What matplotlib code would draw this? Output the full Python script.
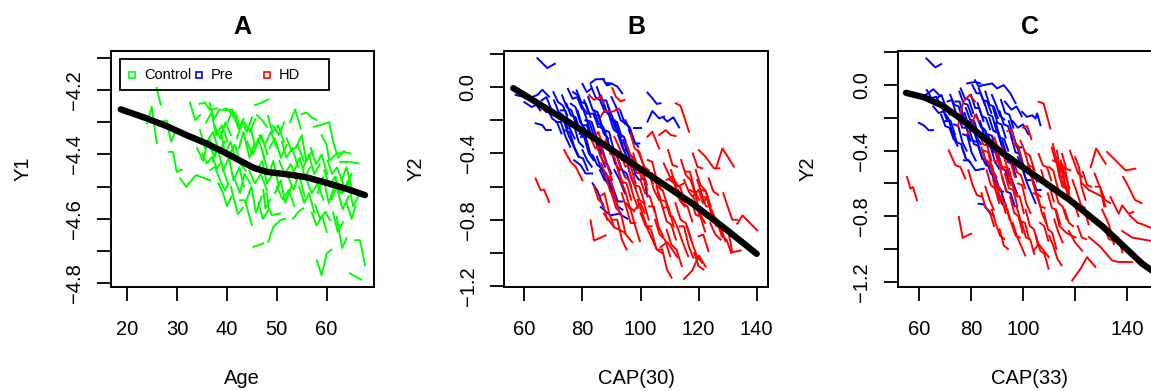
import matplotlib
matplotlib.use("Agg")
import matplotlib.pyplot as plt
from matplotlib.patches import Rectangle

plt.rcParams['font.family'] = ['Liberation Sans', 'DejaVu Sans']

# ---------------- Panel A: controls, Y1 vs age ----------------
ctrl_age = [
    [25.9, 26.7], [23.9, 24.9, 25.9], [26.6, 27.9, 28.8, 29.6], [28.4, 29.2, 29.9, 30.9],
    [30.6, 31.8, 33.8, 36.6], [32.6, 33.6, 34.6], [34.5, 35.6, 36.6, 38.0],
    [34.6, 35.6, 36.6, 37.6], [35.0, 36.0, 37.0, 38.0, 38.9], [38.9, 39.9, 40.9, 41.9, 42.9],
    [36.6, 37.6, 38.6, 39.6, 40.3], [38.3, 39.2, 40.0, 40.9], [40.8, 41.5, 42.2, 43.2],
    [42.6, 43.6, 45.0], [48.0, 48.3, 49.0, 50.7], [39.6, 40.9, 41.9, 42.6],
    [42.0, 43.0, 44.0, 45.0], [45.6, 47.0, 48.3], [46.0, 47.0, 48.0], [44.0, 45.2, 46.3, 47.5],
    [46.5, 47.6, 48.8, 50.0], [48.5, 49.6, 50.8, 52.0], [49.2, 50.4, 51.5], [50.5, 51.6, 52.8, 54.0],
    [52.0, 53.0, 54.2, 55.4], [53.5, 54.6, 55.6, 56.7], [55.0, 56.0, 57.0, 58.0], [57.4, 58.7, 60.2],
    [59.0, 60.0, 60.5, 61.8], [62.4, 63.4, 64.7], [62.7, 64.7, 66.4], [45.3, 47.3],
    [48.3, 49.3, 50.7, 51.7], [53.3, 54.3, 55.3], [58.0, 59.0, 60.0, 61.0], [65.7, 66.7, 67.7],
    [64.7, 66.9], [62.0, 62.7, 63.1, 64.0], [57.7, 58.7, 59.7, 60.7], [47.3, 47.7, 48.7],
    [56.0, 57.0, 58.2, 59.3], [59.5, 60.6, 61.6, 62.6], [61.0, 62.0, 63.2, 64.4], [63.0, 64.0, 65.0],
    [50.0, 51.2, 52.4, 53.5], [44.5, 45.6, 46.8, 48.0], [36.0, 37.2, 38.4, 39.6],
    [37.5, 38.6, 39.7, 40.8], [40.5, 41.6, 42.7, 43.8], [43.5, 44.6, 45.7], [54.5, 55.5, 56.5, 57.5],
    [60.5, 61.3, 62.3, 63.5], [64.0, 65.0, 65.8],
    [34.0, 35.2, 36.1, 37.3], [35.8, 36.9, 37.8, 39.0, 40.1], [37.2, 38.1, 39.3, 40.2],
    [38.8, 39.6, 40.7, 41.9], [39.2, 40.4, 41.3, 42.5, 43.4], [40.2, 41.1, 42.3, 43.3],
    [41.4, 42.6, 43.5, 44.7], [42.4, 43.3, 44.5, 45.4], [43.7, 44.9, 45.8, 47.0],
    [44.8, 45.7, 46.9, 48.1], [45.9, 47.1, 48.0, 49.2], [47.2, 48.4, 49.3, 50.4],
    [48.2, 49.1, 50.3, 51.4], [49.6, 50.8, 51.7, 52.9], [51.0, 51.9, 53.1, 54.3],
    [52.3, 53.4, 54.4, 55.6], [53.8, 55.0, 55.9, 57.1], [55.3, 56.4, 57.5, 58.6],
    [56.8, 57.9, 59.0, 60.1], [58.2, 59.3, 60.4, 61.5], [60.2, 61.1, 62.1, 63.3],
    [61.8, 62.9, 63.9, 65.0], [63.2, 64.3, 65.3, 66.4], [57.0, 58.0, 59.1, 60.0],
    [61.3, 62.2, 63.3], [46.3, 47.2, 48.4], [36.5, 37.4, 38.5], [52.6, 53.7, 54.8],
]
ctrl_y1 = [
    [-4.193, -4.246], [-4.304, -4.252, -4.364], [-4.298, -4.295, -4.360, -4.329],
    [-4.392, -4.392, -4.454, -4.448], [-4.474, -4.500, -4.464, -4.480], [-4.239, -4.293, -4.278],
    [-4.243, -4.239, -4.262, -4.257], [-4.324, -4.381, -4.355, -4.407],
    [-4.397, -4.428, -4.407, -4.443, -4.423], [-4.262, -4.257, -4.272, -4.298, -4.314],
    [-4.448, -4.438, -4.480, -4.511, -4.490], [-4.490, -4.520, -4.560, -4.530],
    [-4.500, -4.545, -4.585, -4.565], [-4.542, -4.542, -4.619], [-4.521, -4.562, -4.588, -4.583],
    [-4.262, -4.262, -4.278, -4.319], [-4.350, -4.300, -4.330, -4.285], [-4.247, -4.239, -4.229],
    [-4.278, -4.293, -4.314], [-4.36, -4.40, -4.35, -4.41], [-4.34, -4.37, -4.33, -4.38],
    [-4.38, -4.35, -4.41, -4.37], [-4.31, -4.34, -4.30], [-4.42, -4.46, -4.43, -4.48],
    [-4.35, -4.39, -4.37, -4.42], [-4.45, -4.41, -4.47, -4.44], [-4.275, -4.270, -4.285, -4.293],
    [-4.314, -4.309, -4.301], [-4.34, -4.37, -4.42, -4.40], [-4.397, -4.392, -4.397],
    [-4.423, -4.423, -4.428], [-4.687, -4.676], [-4.671, -4.624, -4.604, -4.599],
    [-4.599, -4.578, -4.567], [-4.728, -4.775, -4.707, -4.695], [-4.666, -4.666, -4.743],
    [-4.769, -4.788], [-4.593, -4.655, -4.690, -4.660], [-4.557, -4.599, -4.578, -4.604],
    [-4.510, -4.567, -4.540], [-4.48, -4.52, -4.49, -4.54], [-4.45, -4.50, -4.47, -4.52],
    [-4.54, -4.50, -4.57, -4.53], [-4.48, -4.44, -4.50], [-4.50, -4.54, -4.51, -4.56],
    [-4.45, -4.49, -4.46, -4.51], [-4.36, -4.33, -4.39, -4.36], [-4.31, -4.35, -4.30, -4.34],
    [-4.40, -4.37, -4.43, -4.45], [-4.30, -4.33, -4.29], [-4.50, -4.55, -4.52, -4.58],
    [-4.30, -4.36, -4.41, -4.39], [-4.55, -4.60, -4.56],
    [-4.38, -4.42, -4.36, -4.40], [-4.30, -4.27, -4.34, -4.31, -4.36], [-4.42, -4.38, -4.45, -4.49],
    [-4.33, -4.40, -4.36, -4.42], [-4.45, -4.41, -4.48, -4.44, -4.50], [-4.30, -4.26, -4.32, -4.29],
    [-4.47, -4.52, -4.46, -4.49], [-4.38, -4.33, -4.41, -4.37], [-4.55, -4.50, -4.58, -4.53],
    [-4.32, -4.38, -4.34, -4.40], [-4.45, -4.42, -4.49, -4.46], [-4.40, -4.46, -4.42, -4.50],
    [-4.28, -4.33, -4.31, -4.36], [-4.52, -4.48, -4.55, -4.50], [-4.36, -4.41, -4.38, -4.44],
    [-4.47, -4.51, -4.46, -4.53], [-4.38, -4.34, -4.42, -4.39], [-4.44, -4.40, -4.46, -4.43],
    [-4.38, -4.43, -4.40, -4.46], [-4.52, -4.47, -4.55, -4.50], [-4.42, -4.46, -4.44, -4.49],
    [-4.47, -4.52, -4.50, -4.46], [-4.52, -4.48, -4.56, -4.53], [-4.58, -4.62, -4.59, -4.64],
    [-4.58, -4.64, -4.61], [-4.55, -4.60, -4.57], [-4.24, -4.29, -4.26], [-4.30, -4.26, -4.32],
]
mean_age = [18.7, 23.9, 27.9, 31.9, 35.9, 39.3, 42.6, 45.3, 48.0, 50.7, 53.3, 56.0, 60.0, 64.1, 67.7]
mean_y1 = [-4.260, -4.288, -4.312, -4.340, -4.366, -4.392, -4.419, -4.441, -4.454,
           -4.459, -4.464, -4.471, -4.488, -4.507, -4.526]

# ---------------- Panel B: Y2 vs CAP(30) ----------------
pre_cap30 = [
    [64.5, 67.9, 70.5], [57.0, 61.6, 64.5, 66.2, 68.5], [63.9, 66.2, 67.4, 69.1], [82.8, 84.6, 87.4],
    [88.0, 89.7, 92.0, 93.7], [77.1, 79.4, 81.1, 83.4], [86.3, 89.7, 92.6, 95.5],
    [102.4, 104.1, 105.6, 106.9], [102.4, 104.1, 106.4, 108.1], [108.1, 109.2, 111.3, 113.3],
    [97.8, 100.1], [97.8, 99.5, 101.2, 102.4],
    [58.0, 60.5, 63.0, 65.5], [66.0, 67.6, 69.2, 70.8], [70.2, 71.8, 73.4, 75.0],
    [72.0, 73.6, 75.2, 76.8], [73.0, 74.6, 76.2, 77.8], [74.0, 75.6, 77.2, 78.8],
    [76.0, 77.6, 79.2, 80.8], [77.0, 78.6, 80.2, 81.8], [78.0, 79.6, 81.2, 82.8],
    [79.0, 80.6, 82.2, 83.8], [80.0, 81.6, 83.2, 84.8], [81.0, 82.6, 84.2, 85.8],
    [82.0, 83.6, 85.2, 86.8], [83.0, 84.6, 86.2, 87.8], [84.0, 85.6, 87.2, 88.8],
    [85.0, 86.6, 88.2, 89.8], [86.0, 87.6, 89.2, 90.8], [87.0, 88.6, 90.2, 91.8],
    [88.0, 89.6, 91.2, 92.8], [89.0, 90.6, 92.2, 93.8], [90.0, 91.6, 93.2, 94.8],
    [91.0, 92.6, 94.2, 95.8], [92.0, 93.6, 95.2, 96.8], [93.0, 94.6, 96.2, 97.8],
    [94.0, 95.6, 97.2, 98.8], [85.0, 86.6, 88.2, 89.8], [87.0, 88.6, 90.2, 91.8],
    [89.0, 90.6, 92.2, 93.8], [91.0, 92.8, 94.6], [75.0, 76.6, 78.2, 79.8],
    [68.0, 69.6, 71.2, 72.8], [96.0, 97.6, 99.2], [80.0, 81.6, 83.2], [71.0, 72.6, 74.2, 75.8],
    [83.5, 85.3, 87.1], [95.0, 96.6, 98.2],
    [74.5, 76.0, 77.6, 79.2], [75.5, 77.1, 78.7, 80.3], [76.8, 78.4, 80.0, 81.6],
    [78.3, 79.9, 81.5, 83.1], [79.5, 81.1, 82.7, 84.3], [80.6, 82.2, 83.8, 85.4],
    [81.8, 83.4, 85.0, 86.6], [82.9, 84.5, 86.1, 87.7], [84.1, 85.7, 87.3, 88.9],
    [85.2, 86.8, 88.4, 90.0], [86.4, 88.0, 89.6, 91.2], [87.6, 89.2, 90.8, 92.4],
    [88.7, 90.3, 91.9, 93.5], [89.9, 91.5, 93.1, 94.7], [91.1, 92.7, 94.3, 95.9],
    [92.3, 93.9, 95.5, 97.1], [93.6, 95.2, 96.8, 98.4], [72.5, 74.1, 75.7, 77.3],
    [70.0, 71.6, 73.2, 74.8], [77.0, 78.6, 80.2, 81.8], [83.5, 85.1, 86.7, 88.3],
    [86.0, 87.6, 89.2, 90.8], [89.0, 90.6, 92.2, 93.8], [94.8, 96.4, 98.0, 99.6],
    [80.0, 81.5, 83.0], [87.0, 88.5, 90.0], [60.0, 62.5, 65.0, 67.5],
]
pre_y2_b = [
    [0.175, 0.115, 0.141], [-0.047, -0.067, -0.047, -0.016, -0.057], [-0.218, -0.229, -0.259, -0.259],
    [0.024, 0.048, 0.048], [0.024, 0.024, 0.004, -0.037], [-0.441, -0.471, -0.521, -0.521],
    [-0.724, -0.774, -0.764, -0.794], [-0.033, -0.067, -0.101, -0.097],
    [-0.208, -0.144, -0.188, -0.178], [-0.188, -0.208, -0.182, -0.243], [-0.249, -0.249],
    [-0.52, -0.56, -0.55, -0.66],
    [-0.03, -0.07, -0.08, -0.14], [-0.08, -0.06, -0.13, -0.17], [-0.08, -0.15, -0.17, -0.25],
    [-0.18, -0.20, -0.29, -0.35], [-0.05, -0.12, -0.14, -0.22], [-0.26, -0.27, -0.36, -0.42],
    [-0.10, -0.12, -0.21, -0.25], [-0.18, -0.26, -0.27, -0.35], [-0.02, -0.09, -0.10, -0.18],
    [-0.28, -0.30, -0.40, -0.44], [-0.12, -0.20, -0.21, -0.30], [-0.20, -0.22, -0.31, -0.36],
    [-0.06, -0.14, -0.15, -0.24], [-0.30, -0.33, -0.41, -0.48], [-0.14, -0.22, -0.24, -0.33],
    [0.00, -0.08, -0.08, -0.16], [-0.24, -0.26, -0.35, -0.40], [-0.08, -0.16, -0.17, -0.27],
    [-0.34, -0.36, -0.46, -0.50], [-0.16, -0.25, -0.27, -0.35], [-0.06, -0.12, -0.20, -0.22],
    [-0.26, -0.28, -0.38, -0.44], [-0.42, -0.50, -0.52, -0.60], [-0.14, -0.22, -0.24, -0.32],
    [-0.32, -0.40, -0.42, -0.50], [-0.42, -0.50, -0.52, -0.61], [-0.50, -0.58, -0.60, -0.68],
    [-0.56, -0.64, -0.72, -0.74], [-0.50, -0.56, -0.64], [-0.01, -0.07, -0.06, -0.13],
    [-0.13, -0.19, -0.21, -0.28], [-0.26, -0.32, -0.36], [-0.38, -0.44, -0.48],
    [-0.21, -0.21, -0.30, -0.36], [-0.58, -0.63, -0.72], [-0.44, -0.44, -0.52],
    [-0.10, -0.17, -0.18, -0.26], [-0.22, -0.23, -0.33, -0.36], [-0.03, -0.05, -0.12, -0.16],
    [-0.14, -0.23, -0.23, -0.31], [-0.30, -0.30, -0.40, -0.44], [-0.08, -0.16, -0.16, -0.24],
    [-0.22, -0.31, -0.33, -0.40], [0.01, -0.06, -0.08, -0.15], [-0.17, -0.17, -0.28, -0.31],
    [-0.35, -0.37, -0.46, -0.52], [-0.05, -0.14, -0.16, -0.24], [-0.26, -0.27, -0.38, -0.41],
    [-0.11, -0.20, -0.21, -0.30], [-0.37, -0.39, -0.48, -0.54], [-0.20, -0.28, -0.30, -0.38],
    [-0.29, -0.37, -0.39, -0.47], [-0.44, -0.44, -0.55, -0.61], [-0.14, -0.14, -0.25, -0.31],
    [-0.03, -0.09, -0.11, -0.17], [-0.36, -0.42, -0.43, -0.50], [-0.41, -0.47, -0.49, -0.56],
    [-0.50, -0.56, -0.58, -0.66], [-0.54, -0.61, -0.69, -0.69], [-0.20, -0.26, -0.34, -0.34],
    [0.02, -0.03, -0.01], [0.05, 0.01, 0.02], [-0.09, -0.12, -0.10, -0.15],
]
hd_cap30 = [
    [63.9, 65.6, 66.8, 68.5], [73.7, 76.0, 77.7, 80.0], [82.8, 84.0, 88.0], [82.3, 84.0, 86.3, 87.4],
    [90.3, 91.5, 93.2, 94.5], [86.3, 87.6, 90.0, 92.6], [87.4, 90.9, 94.3, 97.2],
    [112.1, 113.8, 116.7], [102.4, 104.1, 106.4], [106.4, 108.7, 110.4, 112.1],
    [120.1, 122.4, 125.3, 127.2], [126.0, 128.2, 132.2], [133.3, 135.1, 140.2],
    [130.5, 131.6, 134.5], [115.0, 117.8, 120.1, 122.4], [106.9, 109.2, 112.7],
    [82.6, 84.5, 86.3, 88.0], [85.0, 86.8, 88.5, 90.2], [88.0, 89.8, 91.5, 93.4],
    [91.0, 92.6, 94.4, 96.0], [93.0, 94.8, 96.5, 98.3], [95.0, 96.8, 98.6, 100.4],
    [97.0, 98.8, 100.5, 102.3], [99.0, 100.8, 102.6, 104.3], [101.0, 102.8, 104.6, 106.4],
    [84.0, 85.5, 87.0, 88.5], [86.0, 87.6, 89.2, 90.8], [88.0, 89.6, 91.2, 92.8],
    [90.0, 91.6, 93.2, 94.8], [93.0, 94.6, 96.2, 97.8], [95.0, 96.6, 98.2, 99.8],
    [98.0, 99.6, 101.2, 102.8], [100.0, 101.8, 103.6, 105.4], [104.0, 105.8, 107.6, 109.4],
    [106.0, 107.8, 109.6, 111.4], [108.0, 109.8, 111.6, 113.4], [110.0, 111.6, 113.4, 115.2],
    [112.0, 113.8, 115.6, 117.4], [114.0, 115.6, 117.2, 119.0], [115.0, 116.6, 118.4, 120.2],
    [117.0, 118.8, 120.4, 122.2], [119.0, 120.6, 122.2, 124.0], [121.0, 122.6, 124.2, 126.0],
    [123.0, 124.6, 126.4, 128.2], [102.0, 103.8, 105.6, 107.4], [105.0, 106.6, 108.4, 110.2],
    [109.0, 110.6, 112.4, 114.2], [111.0, 112.8, 114.6, 116.4], [116.0, 117.6, 119.4, 121.2],
    [120.0, 121.6, 123.4], [124.0, 125.8, 127.6], [96.0, 97.8, 99.6, 101.4], [84.0, 85.5, 87.0],
    [118.0, 119.6, 121.2], [123.5, 125.1, 126.8],
    [86.5, 88.0, 89.5, 91.0], [89.5, 91.0, 92.5, 94.0], [92.0, 93.6, 95.2, 96.8],
    [94.5, 96.0, 97.6, 99.2], [97.5, 99.0, 100.6, 102.2], [100.0, 101.6, 103.2, 104.8],
    [102.5, 104.0, 105.6, 107.2], [105.5, 107.0, 108.6, 110.2], [107.5, 109.0, 110.6, 112.2],
    [110.5, 112.0, 113.6, 115.2], [113.0, 114.6, 116.2, 117.8], [115.5, 117.0, 118.6, 120.2],
    [117.5, 119.0, 120.6, 122.2], [119.5, 121.0, 122.6, 124.2], [121.5, 123.0, 124.6, 126.2],
    [124.5, 126.0, 127.6, 129.2], [126.5, 128.0, 129.6, 131.2], [99.0, 100.6, 102.2, 103.8],
    [103.0, 104.6, 106.2, 107.8], [93.5, 95.0, 96.6, 98.2], [90.5, 92.0, 93.6, 95.2],
    [113.5, 115.0, 116.6, 118.2], [106.0, 107.5, 109.1, 110.7], [118.5, 120.0, 121.6],
    [96.5, 98.0, 99.6, 101.2], [109.5, 111.0, 112.6], [128.5, 130.0, 131.6, 133.2],
    [109.0, 111.0, 113.0, 115.0], [118.0, 120.0, 121.5, 123.0], [98.0, 100.0, 101.5],
]
hd_y2_b = [
    [-0.552, -0.622, -0.618, -0.693], [-0.380, -0.451, -0.481, -0.562], [-0.804, -0.926, -0.895],
    [-0.047, -0.077, -0.057, -0.097], [-0.006, -0.057, -0.087, -0.077], [-0.18, -0.14, -0.15, -0.13],
    [-0.764, -0.845, -0.875, -0.936], [-0.097, -0.113, -0.269], [-0.299, -0.269, -0.37],
    [-0.289, -0.259, -0.289, -0.295], [-0.38, -0.42, -0.49, -0.49], [-0.49, -0.37, -0.48],
    [-0.824, -0.774, -0.865], [-0.895, -0.996, -0.986], [-1.158, -1.107, -1.016, -1.083],
    [-0.966, -0.935, -1.026],
    [-0.30, -0.37, -0.36, -0.45], [-0.36, -0.44, -0.47, -0.56], [-0.32, -0.40, -0.39, -0.50],
    [-0.30, -0.36, -0.44, -0.47], [-0.40, -0.48, -0.47, -0.58], [-0.34, -0.42, -0.46, -0.55],
    [-0.44, -0.52, -0.51, -0.62], [-0.38, -0.46, -0.52, -0.58], [-0.48, -0.50, -0.62, -0.68],
    [-0.60, -0.68, -0.70, -0.80], [-0.66, -0.64, -0.76, -0.84], [-0.54, -0.63, -0.66, -0.76],
    [-0.64, -0.73, -0.76, -0.88], [-0.56, -0.62, -0.72, -0.75], [-0.70, -0.74, -0.84, -0.93],
    [-0.60, -0.68, -0.70, -0.80], [-0.76, -0.84, -0.86, -0.97], [-0.52, -0.60, -0.62, -0.72],
    [-0.64, -0.73, -0.72, -0.84], [-0.46, -0.53, -0.58, -0.66], [-0.56, -0.58, -0.68, -0.72],
    [-0.70, -0.80, -0.82, -0.92], [-0.44, -0.53, -0.56, -0.65], [-0.56, -0.63, -0.67, -0.77],
    [-0.62, -0.64, -0.76, -0.82], [-0.50, -0.59, -0.62, -0.71], [-0.62, -0.63, -0.74, -0.80],
    [-0.68, -0.77, -0.80, -0.88], [-0.84, -0.91, -0.98, -1.00], [-0.80, -0.89, -0.92, -1.02],
    [-0.86, -0.95, -0.98, -1.08], [-0.78, -0.85, -0.94, -1.02], [-0.84, -0.93, -1.02, -1.06],
    [-0.90, -0.89, -0.99], [-0.82, -0.89, -0.92], [-0.50, -0.59, -0.60, -0.70],
    [-0.30, -0.27, -0.35], [-0.40, -0.48, -0.49], [-0.55, -0.63, -0.65],
    [-0.46, -0.53, -0.55, -0.64], [-0.40, -0.42, -0.52, -0.58], [-0.48, -0.57, -0.58, -0.68],
    [-0.54, -0.56, -0.66, -0.73], [-0.40, -0.48, -0.50, -0.59], [-0.56, -0.64, -0.66, -0.75],
    [-0.44, -0.45, -0.56, -0.62], [-0.60, -0.68, -0.69, -0.78], [-0.72, -0.81, -0.83, -0.92],
    [-0.50, -0.59, -0.60, -0.69], [-0.62, -0.70, -0.72, -0.81], [-0.51, -0.51, -0.62, -0.68],
    [-0.68, -0.77, -0.78, -0.87], [-0.56, -0.64, -0.72, -0.72], [-0.66, -0.67, -0.78, -0.84],
    [-0.74, -0.82, -0.84, -0.93], [-0.82, -0.90, -0.92, -1.00], [-0.68, -0.76, -0.84, -0.84],
    [-0.72, -0.72, -0.84, -0.90], [-0.64, -0.72, -0.82, -0.82], [-0.80, -0.80, -0.92, -0.98],
    [-0.84, -0.84, -0.96, -1.03], [-0.98, -0.98, -1.10, -1.15], [-1.00, -1.08, -1.10],
    [-0.28, -0.37, -0.39, -0.48], [-0.38, -0.47, -0.48], [-0.64, -0.72, -0.80, -0.80],
    [-0.56, -0.54, -0.60, -0.58], [-0.66, -0.62, -0.70, -0.66], [-0.74, -0.70, -0.76],
]
mean_cap30 = [56.2, 66.5, 76.9, 87.2, 97.5, 107.9, 118.2, 128.5, 140.0]
mean_y2_b = [-0.006, -0.117, -0.228, -0.344, -0.465, -0.586, -0.707, -0.845, -1.006]

# ---------------- Panel C: Y2 vs CAP(33) ----------------
pre_cap33 = [
    [62.8, 66.3, 68.5], [56.0, 60.0, 63.0, 65.5, 68.0], [59.9, 61.8, 63.7, 65.4], [78.5, 81.7, 83.6],
    [84.9, 88.1, 90.0, 92.6, 95.1, 97.1], [77.2, 79.1, 81.7, 84.9], [82.9, 84.9, 87.4, 88.7],
    [99.6, 101.5, 103.5, 104.8, 105.4, 106.7], [93.0, 95.5, 97.5, 99.5], [96.0, 98.0, 100.0, 102.0],
    [67.0, 68.6, 70.2, 71.8], [69.0, 70.6, 72.2, 73.8], [70.0, 71.6, 73.2, 74.8],
    [72.0, 73.6, 75.2, 76.8], [73.0, 74.6, 76.2, 77.8], [74.0, 75.6, 77.2, 78.8],
    [75.0, 76.6, 78.2, 79.8], [76.0, 77.6, 79.2, 80.8], [77.0, 78.6, 80.2, 81.8],
    [78.0, 79.6, 81.2, 82.8], [79.0, 80.6, 82.2, 83.8], [80.0, 81.6, 83.2, 84.8],
    [81.0, 82.6, 84.2, 85.8], [82.0, 83.6, 85.2, 86.8], [83.0, 84.6, 86.2, 87.8],
    [84.0, 85.6, 87.2, 88.8], [85.0, 86.6, 88.2, 89.8], [86.0, 87.6, 89.2, 90.8],
    [87.0, 88.6, 90.2, 91.8], [88.0, 89.6, 91.2, 92.8], [89.0, 90.6, 92.2, 93.8],
    [90.0, 91.6, 93.2, 94.8], [91.0, 92.6, 94.2, 95.8], [92.0, 93.6, 95.2, 96.8],
    [86.0, 87.6, 89.2, 90.8], [88.0, 89.6, 91.2, 92.8], [94.0, 95.8, 97.6],
    [98.0, 99.6, 101.2, 102.8], [100.0, 101.6, 103.2, 104.8], [63.0, 64.8, 66.6, 68.4],
    [90.0, 91.8, 93.6],
    [68.5, 70.1, 71.7, 73.3], [71.0, 72.6, 74.2, 75.8], [73.5, 75.1, 76.7, 78.3],
    [75.5, 77.1, 78.7, 80.3], [77.5, 79.1, 80.7, 82.3], [79.5, 81.1, 82.7, 84.3],
    [80.5, 82.1, 83.7, 85.3], [82.5, 84.1, 85.7, 87.3], [83.5, 85.1, 86.7, 88.3],
    [85.5, 87.1, 88.7, 90.3], [86.5, 88.1, 89.7, 91.3], [88.5, 90.1, 91.7, 93.3],
    [89.5, 91.1, 92.7, 94.3], [91.5, 93.1, 94.7, 96.3], [92.5, 94.1, 95.7, 97.3],
    [94.5, 96.1, 97.7, 99.3], [95.5, 97.1, 98.7, 100.3], [97.5, 99.1, 100.7, 102.3],
    [76.5, 78.1, 79.7], [84.5, 86.1, 87.7, 89.3], [87.5, 89.1, 90.7, 92.3],
    [92.0, 93.6, 95.2, 96.8], [102.0, 103.6, 105.2, 106.8], [81.5, 83.0, 84.5],
    [65.5, 67.5, 69.5, 71.5],
]
pre_y2_c = [
    [0.163, 0.108, 0.128], [-0.05, -0.075, -0.055, -0.025, -0.065], [-0.230, -0.245, -0.275, -0.275],
    [0.01, 0.02, 0.01], [0.0, 0.01, -0.02, 0.0, -0.05, -0.11], [-0.459, -0.459, -0.52, -0.51],
    [-0.724, -0.728, -0.785, -0.795], [-0.163, -0.194, -0.184, -0.204, -0.173, -0.245],
    [-0.10, -0.15, -0.13, -0.19], [-0.22, -0.26, -0.24, -0.30],
    [-0.08, -0.06, -0.13, -0.18], [-0.14, -0.21, -0.22, -0.30], [-0.22, -0.22, -0.32, -0.37],
    [-0.06, -0.12, -0.13, -0.21], [-0.28, -0.35, -0.36, -0.44], [-0.10, -0.10, -0.20, -0.23],
    [-0.18, -0.26, -0.26, -0.34], [-0.02, -0.08, -0.09, -0.17], [-0.30, -0.31, -0.41, -0.46],
    [-0.14, -0.21, -0.22, -0.30], [-0.22, -0.23, -0.32, -0.36], [-0.06, -0.14, -0.14, -0.22],
    [-0.34, -0.35, -0.44, -0.49], [-0.18, -0.25, -0.27, -0.35], [-0.02, -0.09, -0.10, -0.17],
    [-0.26, -0.28, -0.37, -0.41], [-0.10, -0.18, -0.19, -0.28], [-0.36, -0.38, -0.47, -0.51],
    [-0.20, -0.28, -0.29, -0.37], [-0.06, -0.12, -0.19, -0.21], [-0.28, -0.29, -0.39, -0.45],
    [-0.44, -0.51, -0.52, -0.60], [-0.16, -0.24, -0.25, -0.33], [-0.34, -0.42, -0.43, -0.51],
    [-0.46, -0.54, -0.55, -0.63], [-0.54, -0.62, -0.63, -0.71], [-0.52, -0.58, -0.66],
    [-0.44, -0.50, -0.58, -0.58], [-0.52, -0.60, -0.66, -0.72], [-0.03, -0.08, -0.07, -0.13],
    [-0.66, -0.72, -0.76],
    [-0.18, -0.25, -0.26, -0.33], [-0.10, -0.09, -0.17, -0.22], [-0.24, -0.25, -0.35, -0.40],
    [-0.04, -0.11, -0.12, -0.19], [-0.17, -0.25, -0.26, -0.34], [-0.28, -0.36, -0.37, -0.45],
    [0.00, -0.05, -0.05, -0.12], [-0.11, -0.19, -0.20, -0.27], [-0.22, -0.31, -0.31, -0.39],
    [-0.04, -0.12, -0.13, -0.20], [-0.30, -0.31, -0.42, -0.47], [-0.14, -0.23, -0.24, -0.32],
    [-0.23, -0.32, -0.33, -0.40], [-0.09, -0.17, -0.18, -0.26], [-0.38, -0.47, -0.48, -0.56],
    [-0.22, -0.30, -0.38, -0.38], [-0.32, -0.41, -0.42, -0.50], [-0.36, -0.45, -0.52, -0.53],
    [-0.38, -0.45, -0.47], [-0.40, -0.49, -0.50, -0.58], [-0.48, -0.57, -0.64, -0.65],
    [-0.56, -0.65, -0.66, -0.74], [-0.48, -0.57, -0.64, -0.64], [0.03, -0.01, 0.00],
    [-0.13, -0.17, -0.16, -0.21],
]
hd_cap33 = [
    [55.4, 56.7, 57.7, 59.2], [75.3, 76.8, 80.0], [71.4, 74.0, 75.9, 77.8], [75.0, 77.0, 79.5, 81.5],
    [106.0, 107.9, 110.5], [126.0, 128.1, 131.7], [132.3, 136.8, 139.4, 143.2],
    [133.6, 136.8, 138.1, 140.6, 142.4], [141.0, 144.0, 146.0, 149.0],
    [125.3, 129.8, 134.2, 136.8, 141.9], [118.9, 122.1, 124.6, 127.8], [104.1, 106.0, 109.9],
    [83.0, 84.6, 86.2, 87.8], [85.0, 86.6, 88.2, 89.8], [86.0, 87.6, 89.2, 90.8],
    [87.5, 89.1, 90.7, 92.3], [89.0, 90.6, 92.2, 93.8], [90.0, 91.6, 93.2, 94.8],
    [92.0, 93.6, 95.2, 96.8], [93.0, 94.6, 96.2, 97.8], [95.0, 96.6, 98.2, 99.8],
    [96.0, 97.6, 99.2, 100.8], [98.0, 99.6, 101.2, 102.8], [99.0, 100.8, 102.6, 104.4],
    [101.0, 102.6, 104.2, 105.8], [102.0, 103.6, 105.2, 106.8], [104.0, 105.6, 107.2, 108.8],
    [106.0, 107.6, 109.2, 110.8], [108.0, 109.6, 111.2, 112.8], [110.0, 111.6, 113.2, 114.8],
    [111.0, 112.6, 114.2, 115.8], [112.0, 113.6, 115.2, 116.8], [113.0, 114.6, 116.2, 117.8],
    [114.0, 115.6, 117.2, 118.8], [116.0, 117.6, 119.2], [119.0, 120.6, 122.2, 123.8],
    [122.0, 123.6, 125.2], [84.0, 85.6, 87.2, 88.8], [88.0, 89.6, 91.2, 92.8], [91.0, 92.6, 94.2],
    [100.0, 101.6, 103.2], [94.0, 95.6, 97.2], [105.0, 106.6, 108.2, 109.8], [128.0, 129.6, 131.2],
    [135.0, 136.6, 138.2], [118.0, 119.6, 121.2, 122.8], [123.0, 124.6, 126.2],
    [110.0, 111.6, 113.2, 114.8], [121.0, 122.6, 124.2], [96.0, 97.6, 99.2, 100.8],
    [84.0, 85.6, 87.2, 88.8], [86.5, 88.1, 89.7, 91.3], [88.5, 90.1, 91.7, 93.3],
    [90.5, 92.1, 93.7, 95.3], [93.0, 94.6, 96.2, 97.8], [95.5, 97.1, 98.7, 100.3],
    [97.5, 99.1, 100.7, 102.3], [100.5, 102.1, 103.7, 105.3], [103.5, 105.1, 106.7, 108.3],
    [107.0, 108.6, 110.2, 111.8], [109.5, 111.1, 112.7, 114.3], [111.5, 113.1, 114.7, 116.3],
    [113.5, 115.1, 116.7, 118.3], [115.0, 116.6, 118.2], [116.5, 118.1, 119.7, 121.3],
    [94.0, 95.6, 97.2, 98.8], [99.5, 101.1, 102.7, 104.3], [106.5, 108.1, 109.7],
    [89.0, 90.6, 92.2, 93.8], [96.5, 98.1, 99.7], [85.5, 87.1, 88.7], [79.0, 80.6, 82.2, 83.8],
    [127.5, 129.5, 131.5, 133.5], [131.0, 133.0, 135.0], [138.5, 140.5, 143.0, 145.5],
    [112.0, 113.6, 115.2], [78.5, 80.0, 81.5, 83.0],
    [111.5, 112.5, 113.5, 114.5], [113.0, 114.0, 115.2, 116.0], [114.5, 115.3, 116.4, 117.5],
    [116.0, 117.0, 118.0], [120.0, 121.5, 122.5, 124.0], [122.8, 125.3, 130.4, 131.7],
    [112.4, 114.0, 116.5, 120.1], [117.6, 120.0, 122.7], [130.4, 133.0, 134.9],
    [138.1, 141.9, 149.0],
]
hd_y2_c = [
    [-0.561, -0.632, -0.622, -0.703], [-0.805, -0.932, -0.907], [-0.398, -0.489, -0.50, -0.57],
    [-0.25, -0.10, -0.06, -0.10], [-0.102, -0.112, -0.265], [-0.50, -0.387, -0.479],
    [-0.408, -0.479, -0.52, -0.51], [-0.683, -0.785, -0.734, -0.785, -0.775],
    [-0.795, -0.84, -0.85, -0.87], [-0.927, -0.988, -1.07, -1.08, -1.08],
    [-1.192, -1.121, -1.05, -1.11], [-1.01, -0.97, -1.05],
    [-0.28, -0.36, -0.37, -0.46], [-0.40, -0.41, -0.52, -0.56], [-0.52, -0.61, -0.63, -0.72],
    [-0.33, -0.40, -0.48, -0.50], [-0.46, -0.47, -0.58, -0.65], [-0.62, -0.71, -0.72, -0.82],
    [-0.38, -0.45, -0.47, -0.56], [-0.54, -0.63, -0.64, -0.74], [-0.68, -0.78, -0.80, -0.90],
    [-0.44, -0.53, -0.55, -0.63], [-0.60, -0.61, -0.72, -0.78], [-0.34, -0.41, -0.43, -0.52],
    [-0.76, -0.86, -0.88, -0.98], [-0.50, -0.58, -0.66, -0.68], [-0.66, -0.67, -0.78, -0.84],
    [-0.42, -0.49, -0.50, -0.58], [-0.78, -0.88, -0.90, -1.00], [-0.50, -0.52, -0.62, -0.68],
    [-0.38, -0.47, -0.48, -0.57], [-0.62, -0.72, -0.74, -0.82], [-0.44, -0.53, -0.54, -0.63],
    [-0.56, -0.56, -0.67, -0.70], [-0.76, -0.84, -0.86], [-0.58, -0.65, -0.73, -0.75],
    [-0.74, -0.76, -0.85], [-0.66, -0.75, -0.77, -0.86], [-0.76, -0.85, -0.92, -0.94],
    [-0.88, -0.98, -1.00], [-0.26, -0.25, -0.33], [-0.28, -0.27, -0.37],
    [-0.92, -1.01, -1.03, -1.12], [-0.62, -0.62, -0.74], [-0.92, -0.93, -1.02],
    [-0.40, -0.47, -0.54, -0.56], [-0.53, -0.61, -0.62], [-0.92, -0.98, -1.06, -1.10],
    [-0.86, -0.93, -0.94], [-0.84, -0.92, -0.98, -1.04],
    [-0.38, -0.46, -0.47, -0.56], [-0.48, -0.49, -0.60, -0.64], [-0.58, -0.67, -0.68, -0.78],
    [-0.42, -0.51, -0.52, -0.61], [-0.50, -0.51, -0.62, -0.68], [-0.58, -0.67, -0.68, -0.78],
    [-0.74, -0.83, -0.84, -0.94], [-0.40, -0.49, -0.50, -0.59], [-0.58, -0.67, -0.74, -0.75],
    [-0.52, -0.61, -0.62, -0.71], [-0.66, -0.75, -0.76, -0.85], [-0.46, -0.47, -0.58, -0.63],
    [-0.52, -0.62, -0.63, -0.72], [-0.42, -0.51, -0.52], [-0.62, -0.71, -0.72, -0.80],
    [-0.76, -0.85, -0.92, -0.93], [-0.84, -0.93, -0.94, -1.03], [-0.84, -0.86, -0.95],
    [-0.32, -0.40, -0.41, -0.50], [-0.36, -0.37, -0.46], [-0.62, -0.70, -0.76],
    [-0.52, -0.61, -0.67, -0.68], [-0.54, -0.62, -0.70, -0.72], [-0.86, -0.94, -0.95],
    [-0.56, -0.62, -0.70, -0.72], [-0.82, -0.90, -0.96], [-0.30, -0.26, -0.18, -0.22],
    [-0.36, -0.44, -0.52, -0.58], [-0.40, -0.50, -0.48, -0.60], [-0.46, -0.56, -0.62, -0.64],
    [-0.50, -0.58, -0.70], [-0.44, -0.50, -0.62, -0.70], [-0.60, -0.64, -0.68, -0.74],
    [-0.76, -0.86, -0.90, -0.93], [-0.89, -0.96, -1.01], [-0.76, -0.85, -0.97],
    [-0.89, -0.93, -0.95],
]
mean_cap33 = [55.0, 62.0, 69.0, 76.0, 84.0, 92.4, 105.3, 118.1, 130.9, 145.8, 153.0]
mean_y2_c = [-0.047, -0.075, -0.125, -0.205, -0.310, -0.418, -0.561, -0.703, -0.867, -1.09, -1.17]

GREEN, BLUE, RED = '#00FF00', '#0000FF', '#FF0000'
MINUS = '\u2212'


def fmt(v):
    s = '%.1f' % v
    return s.replace('-', MINUS)


def spaghetti(ax, xs, ys, color):
    for x, y in zip(xs, ys):
        ax.plot(x, y, color=color, lw=1.4, solid_joinstyle='round')


def style(ax, xticks, xlabels, yticks, ylabels, pad_x=13.5, pad_y=9):
    ax.set_xticks(xticks, labels=xlabels)
    ax.set_yticks(yticks, labels=ylabels)
    ax.tick_params(axis='both', direction='out', length=10, width=1.3, labelsize=14.5)
    ax.tick_params(axis='x', pad=pad_x)
    ax.tick_params(axis='y', pad=pad_y)
    for lab in ax.get_yticklabels():
        lab.set_rotation(90)
        lab.set_va('center')
    for sp in ax.spines.values():
        sp.set_linewidth(1.4)


fig = plt.figure(figsize=(11.51, 3.91), dpi=100)
W, H = 1151.0, 391.0
top, bot = 50.7, 287.3
axA = fig.add_axes([110.7 / W, 1 - bot / H, 263.3 / W, (bot - top) / H])
axB = fig.add_axes([504.0 / W, 1 - bot / H, 264.3 / W, (bot - top) / H])
axC = fig.add_axes([897.7 / W, 1 - bot / H, 264.0 / W, (bot - top) / H])

# A
spaghetti(axA, ctrl_age, ctrl_y1, GREEN)
axA.plot(mean_age, mean_y1, color='black', lw=4.6, solid_capstyle='round')
axA.set_xlim(16.67, 69.5)
axA.set_ylim(-4.812, -4.078)
ytA = [-4.1, -4.2, -4.3, -4.4, -4.5, -4.6, -4.7, -4.8]
style(axA, [20, 30, 40, 50, 60], ['20', '30', '40', '50', '60'],
      ytA, [fmt(v) if i % 2 == 1 else '' for i, v in enumerate(ytA)])

# legend of panel A
axA.add_patch(Rectangle((0.035, 0.834), 0.793, 0.131, transform=axA.transAxes,
                        fill=False, lw=1.3, ec='black', zorder=5))
for xm, xt, lab, col in [(0.081, 0.126, 'Control', GREEN), (0.336, 0.381, 'Pre', BLUE),
                         (0.592, 0.638, 'HD', RED)]:
    axA.plot([xm], [0.896], transform=axA.transAxes, marker='s', ms=4, mfc='none',
             mec=col, mew=1.2, ls='none', zorder=6)
    axA.text(xt, 0.896, lab, transform=axA.transAxes, fontsize=10.5, va='center',
             ha='left', zorder=6)

# B
spaghetti(axB, pre_cap30, pre_y2_b, BLUE)
spaghetti(axB, hd_cap30, hd_y2_b, RED)
axB.plot(mean_cap30, mean_y2_b, color='black', lw=4.6, solid_capstyle='round')
axB.set_xlim(53.0, 144.0)
axB.set_ylim(-1.208, 0.22)
ytB = [0.2, 0.0, -0.2, -0.4, -0.6, -0.8, -1.0, -1.2]
style(axB, [60, 80, 100, 120, 140], ['60', '80', '100', '120', '140'],
      ytB, [fmt(v) if i % 2 == 1 else '' for i, v in enumerate(ytB)])

# C
spaghetti(axC, pre_cap33, pre_y2_c, BLUE)
spaghetti(axC, hd_cap33, hd_y2_c, RED)
axC.plot(mean_cap33, mean_y2_c, color='black', lw=4.6, solid_capstyle='round')
axC.set_xlim(51.8, 153.3)
axC.set_ylim(-1.234, 0.21)
ytC = [0.2, 0.0, -0.2, -0.4, -0.6, -0.8, -1.0, -1.2]
style(axC, [60, 80, 100, 120, 140], ['60', '80', '100', '', '140'],
      ytC, [fmt(v) if i % 2 == 1 else '' for i, v in enumerate(ytC)])

# titles and axis labels
for cx, t in [(242.3, 'A'), (636.1, 'B'), (1029.7, 'C')]:
    fig.text(cx / W, 1 - 34 / H, t, ha='center', va='baseline', fontsize=18, weight='bold')
for cx, t in [(242.3, 'Age'), (636.1, 'CAP(30)'), (1029.7, 'CAP(33)')]:
    fig.text(cx / W, 1 - 384 / H, t, ha='center', va='baseline', fontsize=14.5)
for bx, t in [(28.3, 'Y1'), (421.5, 'Y2'), (813.5, 'Y2')]:
    fig.text(bx / W, 1 - 169 / H, t, ha='center', va='baseline', rotation=90,
             rotation_mode='anchor', fontsize=14.5)

fig.savefig('out.png', dpi=100)
